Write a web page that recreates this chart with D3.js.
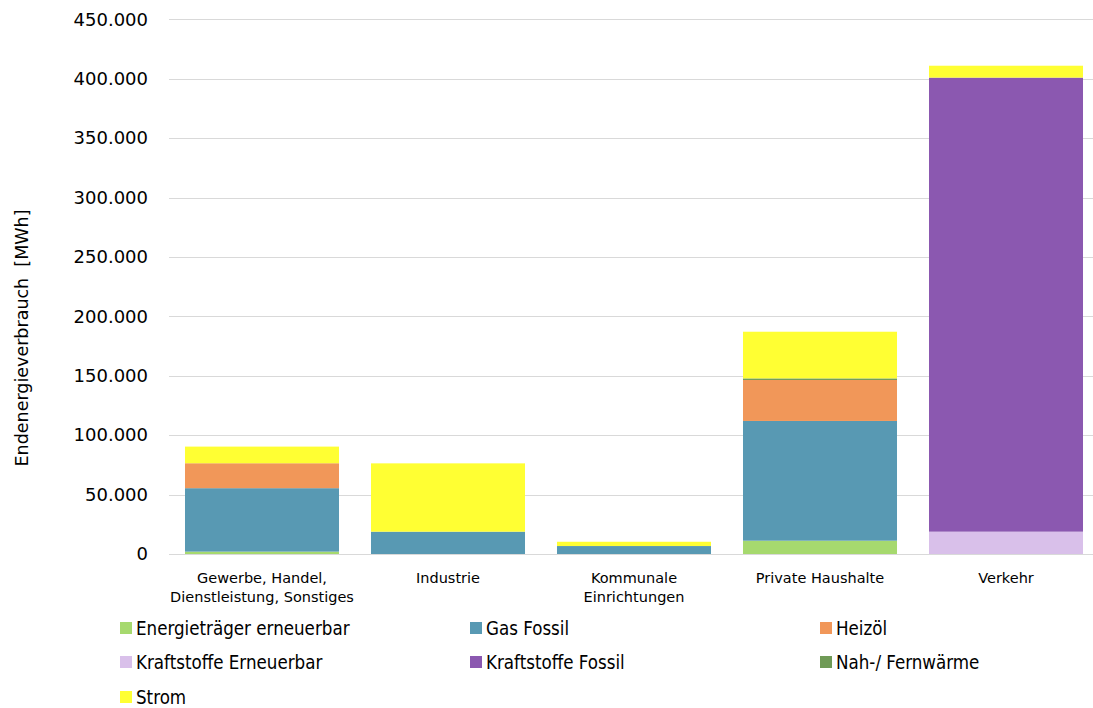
<!DOCTYPE html>
<html>
<head>
<meta charset="utf-8">
<script src="https://cdn.jsdelivr.net/npm/d3@7"></script>
<style>
  html, body { margin: 0; padding: 0; background: #fff; }
  svg { display: block; }
</style>
</head>
<body>
<svg id="chart" width="1093" height="708"></svg>
<script>
// Sectors (x axis)
const categories = [
  ["Gewerbe, Handel,", "Dienstleistung, Sonstiges"],
  ["Industrie"],
  ["Kommunale", "Einrichtungen"],
  ["Private Haushalte"],
  ["Verkehr"]
];
const categoryKeys = ["Gewerbe", "Industrie", "Kommunale", "Private", "Verkehr"];

// Energy carriers (stack order, bottom to top) – MWh per sector
const seriesNames = [
  "Energieträger erneuerbar",
  "Gas Fossil",
  "Heizöl",
  "Kraftstoffe Erneuerbar",
  "Kraftstoffe Fossil",
  "Nah-/ Fernwärme",
  "Strom"
];
const energietraegerErneuerbar = [2000, 0, 0, 11200, 0];
const gasFossil               = [53400, 18800, 6700, 100800, 0];
const heizoel                 = [21000, 0, 0, 34500, 0];
const kraftstoffeErneuerbar   = [0, 0, 0, 0, 18800];
const kraftstoffeFossil       = [0, 0, 0, 0, 382200];
const nahFernwaerme           = [0, 0, 0, 1300, 0];
const strom                   = [14000, 57500, 3600, 39300, 10000];

const seriesColors = ["#a6d96e", "#5899b3", "#f19759", "#d9c0ea", "#8b58b0", "#6f9a56", "#ffff33"];

const yTicks = [0, 50000, 100000, 150000, 200000, 250000, 300000, 350000, 400000, 450000];
const yTitle = "Endenergieverbrauch  [MWh]";

const seriesValues = [energietraegerErneuerbar, gasFossil, heizoel, kraftstoffeErneuerbar,
                      kraftstoffeFossil, nahFernwaerme, strom];

const table = categoryKeys.map((k, i) => {
  const row = { key: k };
  seriesNames.forEach((s, j) => { row[s] = seriesValues[j][i]; });
  return row;
});

const svg = d3.select("#chart");
const plot = { left: 169, right: 1099, top: 19.4, bottom: 554 };

const x = d3.scaleBand()
  .domain(categoryKeys)
  .range([plot.left, plot.right])
  .paddingInner(0.172)
  .paddingOuter(0.086);

const y = d3.scaleLinear()
  .domain([0, 450000])
  .range([plot.bottom, plot.top]);

// Horizontal gridlines
svg.append("g")
  .selectAll("line")
  .data(yTicks)
  .join("line")
  .attr("x1", plot.left)
  .attr("x2", plot.right)
  .attr("y1", d => Math.round(y(d)) + 0.5)
  .attr("y2", d => Math.round(y(d)) + 0.5)
  .attr("stroke", "#d9d9d9")
  .attr("stroke-width", 1);

// Stacked bars
const stacked = d3.stack().keys(seriesNames)(table);
svg.append("g")
  .selectAll("g")
  .data(stacked)
  .join("g")
  .attr("fill", (d, i) => seriesColors[i])
  .selectAll("rect")
  .data(d => d)
  .join("rect")
  .attr("x", d => x(d.data.key))
  .attr("width", x.bandwidth())
  .attr("y", d => y(d[1]))
  .attr("height", d => Math.max(0, y(d[0]) - y(d[1])));

// Y axis tick labels
const yAxis = d3.axisLeft(y)
  .tickValues(yTicks)
  .tickSize(0)
  .tickPadding(0)
  .tickFormat(d => d3.format(",")(d).replace(/,/g, "."));
const yg = svg.append("g")
  .attr("transform", `translate(148,0)`)
  .call(yAxis);
yg.select(".domain").remove();
yg.selectAll("text")
  .attr("font-family", "DejaVu Sans, Verdana, sans-serif")
  .attr("font-size", 18)
  .attr("fill", "#000");

// Y axis title
svg.append("text")
  .attr("transform", "translate(28,338) rotate(-90)")
  .attr("text-anchor", "middle")
  .attr("font-family", "DejaVu Sans, Verdana, sans-serif")
  .attr("font-size", 17.5)
  .attr("fill", "#000")
  .attr("xml:space", "preserve")
  .style("white-space", "pre")
  .text(yTitle);

// X category labels
const xg = svg.append("g");
categoryKeys.forEach((k, i) => {
  const t = xg.append("text")
    .attr("x", x(k) + x.bandwidth() / 2)
    .attr("y", 583)
    .attr("text-anchor", "middle")
    .attr("font-family", "DejaVu Sans, Tahoma, sans-serif")
    .attr("font-size", 14.5)
    .attr("fill", "#000");
  categories[i].forEach((line, j) => {
    t.append("tspan")
      .attr("x", x(k) + x.bandwidth() / 2)
      .attr("dy", j === 0 ? 0 : 19)
      .text(line);
  });
});

// Legend
const legendCols = [120, 470, 820];
const legendRows = [628, 662, 697];
const lg = svg.append("g");
seriesNames.forEach((name, i) => {
  const cx = legendCols[i % 3];
  const cy = legendRows[Math.floor(i / 3)];
  lg.append("rect")
    .attr("x", cx)
    .attr("y", cy - 6)
    .attr("width", 12)
    .attr("height", 12)
    .attr("fill", seriesColors[i]);
  lg.append("text")
    .attr("transform", `translate(${cx + 16},${cy + 7}) scale(0.93,1)`)
    .attr("font-family", "DejaVu Sans Condensed, sans-serif")
    .attr("font-size", 20)
    .attr("fill", "#000")
    .text(name);
});
</script>
</body>
</html>
